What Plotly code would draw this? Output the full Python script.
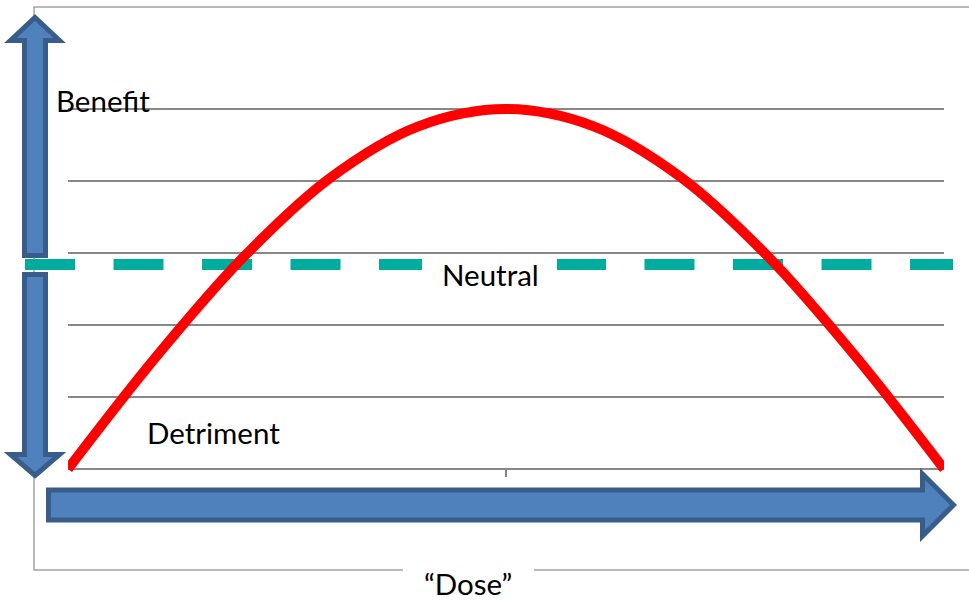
import plotly.graph_objects as go

# Dose-response curve: benefit rises to a peak then falls back to detriment
dose = [0, 1, 2, 3, 4, 5, 6, 7, 8, 9, 10]
response = [0, 1.55, 2.94, 4.05, 4.76, 5.0, 4.76, 4.05, 2.94, 1.55, 0]
neutral_level = 2.84
x_ticks = [0, 5, 10]

W, H = 969, 602
ML, MR, MT, MB = 68, 25, 37, 125
PW, PH = W - ML - MR, H - MT - MB

BLUE_FILL = "#4F81BD"
BLUE_EDGE = "#385D8A"
GRID = "#878787"
FRAME = "#A3A3A3"
TEAL = "#00AC9D"
FONT = "Lato"
FONT_SIZE = 29.5


def px(x, y):
    """Pixel position on the page -> paper coordinates."""
    return (x - ML) / PW, (H - MB - y) / PH


def path(points):
    parts = []
    for i, (x, y) in enumerate(points):
        u, v = px(x, y)
        parts.append(("M" if i == 0 else "L") + f"{u:.5f},{v:.5f}")
    return " ".join(parts) + " Z"


def up_arrow(cx, tip, head_base, bottom, shaft_half, head_half, inset=2.5):
    return path([
        (cx, tip + inset),
        (cx + head_half - inset, head_base - inset),
        (cx + shaft_half - inset, head_base - inset),
        (cx + shaft_half - inset, bottom - inset),
        (cx - shaft_half + inset, bottom - inset),
        (cx - shaft_half + inset, head_base - inset),
        (cx - head_half + inset, head_base - inset),
    ])


def down_arrow(cx, tip, head_base, top, shaft_half, head_half, inset=2.5):
    return path([
        (cx, tip - inset),
        (cx + head_half - inset, head_base + inset),
        (cx + shaft_half - inset, head_base + inset),
        (cx + shaft_half - inset, top + inset),
        (cx - shaft_half + inset, top + inset),
        (cx - shaft_half + inset, head_base + inset),
        (cx - head_half + inset, head_base + inset),
    ])


def right_arrow(cy, tip, head_base, left, shaft_half, head_half, inset=2.5):
    return path([
        (tip - inset, cy),
        (head_base + inset, cy + head_half - inset),
        (head_base + inset, cy + shaft_half - inset),
        (left + inset, cy + shaft_half - inset),
        (left + inset, cy - shaft_half + inset),
        (head_base + inset, cy - shaft_half + inset),
        (head_base + inset, cy - head_half + inset),
    ])


fig = go.Figure()
fig.add_trace(go.Scatter(
    x=dose, y=response, mode="lines",
    line=dict(color="#FF0000", width=10, shape="spline", smoothing=1),
    hoverinfo="skip", showlegend=False,
))

shapes = []

# outer frame (left, top, bottom edges)
fx0, fy0 = px(34, 7)
fx1, fy1 = px(975, 570)
shapes.append(dict(type="path", xref="paper", yref="paper", layer="below",
                   path=f"M{fx1:.5f},{fy0:.5f} L{fx0:.5f},{fy0:.5f} L{fx0:.5f},{fy1:.5f} L{fx1:.5f},{fy1:.5f}",
                   line=dict(color=FRAME, width=1.5)))

# neutral reference line
nx0, _ = px(25, 0)
nx1, _ = px(953, 0)
shapes.append(dict(type="line", xref="paper", yref="y", layer="between",
                   x0=nx0, x1=nx1, y0=neutral_level, y1=neutral_level,
                   line=dict(color=TEAL, width=11, dash="50px,38.5px")))

# white boxes behind the labels
bx0, by0 = px(422, 248)
bx1, by1 = px(557, 292)
shapes.append(dict(type="rect", xref="paper", yref="paper", layer="between",
                   x0=bx0, x1=bx1, y0=by0, y1=by1, fillcolor="white", line=dict(width=0)))
dx0, dy0 = px(403, 564)
dx1, dy1 = px(534, 602)
shapes.append(dict(type="rect", xref="paper", yref="paper", layer="above",
                   x0=dx0, x1=dx1, y0=dy0, y1=dy1, fillcolor="white", line=dict(width=0)))

# benefit / detriment arrows and dose arrow
for p in (
    up_arrow(35, 15, 43, 258, 13, 27),
    down_arrow(35, 478, 452, 272, 13, 27),
    right_arrow(505, 956, 920, 46, 17.5, 33.5),
):
    shapes.append(dict(type="path", xref="paper", yref="paper", layer="above",
                       path=p, fillcolor=BLUE_FILL, line=dict(color=BLUE_EDGE, width=5)))

annotations = []


def label(text, x, y, xanchor, yanchor="middle"):
    u, v = px(x, y)
    annotations.append(dict(text=text, x=u, y=v, xref="paper", yref="paper",
                            xanchor=xanchor, yanchor=yanchor, showarrow=False,
                            borderpad=0,
                            font=dict(family=FONT, size=FONT_SIZE, color="black")))


label("Benefit", 55, 100, "left")
label("Neutral", 490, 274, "center")
label("Detriment", 146, 432, "left")
label("\u201cDose\u201d", 468, 602, "center", "bottom")

fig.update_layout(
    width=W, height=H,
    margin=dict(l=ML, r=MR, t=MT, b=MB, pad=0),
    paper_bgcolor="white", plot_bgcolor="white",
    shapes=shapes, annotations=annotations,
    xaxis=dict(range=[0, 10], tickvals=x_ticks, ticks="inside", ticklen=8,
               tickwidth=1.5, tickcolor=GRID, showticklabels=False,
               showgrid=False, zeroline=False, showline=False, fixedrange=True),
    yaxis=dict(range=[-8 / 72, 6.001], tick0=0, dtick=1, showticklabels=False,
               ticks="", showgrid=True, gridcolor=GRID, gridwidth=2,
               zeroline=True, zerolinecolor=GRID, zerolinewidth=2,
               showline=False, fixedrange=True),
)

fig.write_html("out.html", config={"displayModeBar": False})
